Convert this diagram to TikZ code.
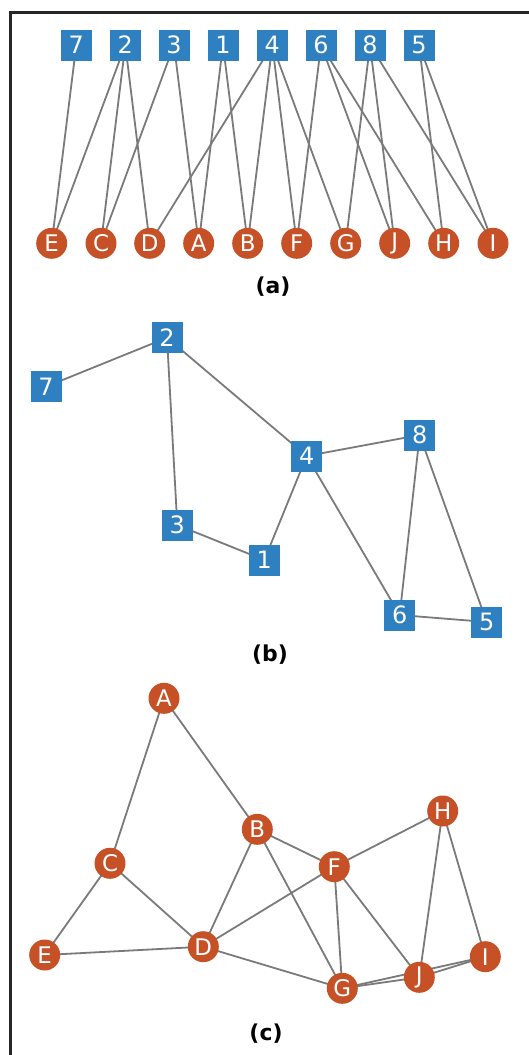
\documentclass[tikz,border=0pt]{standalone}
\usepackage{fontspec}
\setmainfont{DejaVu Sans}
\usetikzlibrary{backgrounds}
\definecolor{nblue}{HTML}{2F80C1}
\definecolor{norange}{HTML}{C65127}
\definecolor{edgegray}{HTML}{7A7A7A}
\definecolor{framecol}{HTML}{262626}
\tikzset{
  sq/.style={rectangle, fill=nblue, minimum size=31bp, inner sep=0pt, text=white, font=\fontsize{24}{24}\selectfont},
  cir/.style={circle, fill=norange, minimum size=31bp, inner sep=0pt, text=white, font=\fontsize{23}{23}\selectfont},
  link/.style={draw=edgegray, line width=1.8bp},
  figlabel/.style={font=\bfseries\fontsize{22}{22}\selectfont, text=black},
  framestyle/.style={draw=framecol, line width=2.8bp}
}
\begin{document}
\begin{tikzpicture}[x=1bp,y=-1bp]
\useasboundingbox (0,0) rectangle (529,1055);
\coordinate (fbl) at (10.5,1056);
\coordinate (ftl) at (10.5,12.5);
\coordinate (ftr) at (530,12.5);
\draw[framestyle] (fbl) -- (ftl) -- (ftr);

% ---------- (a) ----------
\node[sq] (a7) at (76.3,45) {7};
\node[sq] (a2) at (125.3,45) {2};
\node[sq] (a3) at (174,45) {3};
\node[sq] (a1) at (223,45) {1};
\node[sq] (a4) at (272.3,45) {4};
\node[sq] (a6) at (321,45) {6};
\node[sq] (a8) at (370,45) {8};
\node[sq] (a5) at (419,45) {5};

\node[cir] (aE) at (51.7,243.3) {E};
\node[cir] (aC) at (101,243.3) {C};
\node[cir] (aD) at (149.7,243.3) {D};
\node[cir] (aA) at (198.7,243.3) {A};
\node[cir] (aB) at (247.7,243.3) {B};
\node[cir] (aF) at (296.7,243.3) {F};
\node[cir] (aG) at (345.7,243.3) {G};
\node[cir] (aJ) at (394.7,243.3) {J};
\node[cir] (aH) at (443.7,243.3) {H};
\node[cir] (aI) at (493,243.3) {I};

\begin{scope}[on background layer]
\foreach \u/\v in {a7/aE, a2/aE, a2/aC, a2/aD, a3/aC, a3/aA, a1/aA, a1/aB,
  a4/aD, a4/aB, a4/aF, a4/aG, a6/aF, a6/aJ, a6/aH, a8/aG, a8/aJ, a8/aI, a5/aH, a5/aI}
  \draw[link] (\u.center) -- (\v.center);
\end{scope}

\node[figlabel] (capa) at (273,287) {(a)};

% ---------- (b) ----------
\node[sq] (b2) at (167,337.7) {2};
\node[sq] (b7) at (46,386.7) {7};
\node[sq] (b4) at (306.7,456) {4};
\node[sq] (b8) at (419.7,435) {8};
\node[sq] (b3) at (177.3,525) {3};
\node[sq] (b1) at (264.3,560) {1};
\node[sq] (b6) at (399.7,615) {6};
\node[sq] (b5) at (486.7,622) {5};

\begin{scope}[on background layer]
\foreach \u/\v in {b7/b2, b2/b3, b2/b4, b3/b1, b1/b4, b4/b6, b4/b8, b6/b8, b6/b5, b8/b5}
  \draw[link] (\u.center) -- (\v.center);
\end{scope}

\node[figlabel] (capb) at (270,655) {(b)};

% ---------- (c) ----------
\node[cir] (cA) at (164,698.3) {A};
\node[cir] (cB) at (257.3,829.3) {B};
\node[cir] (cC) at (110,863.3) {C};
\node[cir] (cF) at (334.3,866.7) {F};
\node[cir] (cH) at (442.7,811) {H};
\node[cir] (cE) at (44.7,955) {E};
\node[cir] (cD) at (203.3,946.7) {D};
\node[cir] (cG) at (342.3,988.3) {G};
\node[cir] (cJ) at (419.3,977.3) {J};
\node[cir] (cI) at (485.3,956.7) {I};

\begin{scope}[on background layer]
\foreach \u/\v in {cE/cC, cE/cD, cC/cD, cC/cA, cA/cB, cD/cB, cD/cF, cD/cG, cB/cF, cB/cG,
  cF/cG, cF/cJ, cF/cH, cJ/cH, cG/cJ, cG/cI, cJ/cI, cH/cI}
  \draw[link] (\u.center) -- (\v.center);
\end{scope}

\node[figlabel] (capc) at (266,1033.3) {(c)};
\end{tikzpicture}
\end{document}
